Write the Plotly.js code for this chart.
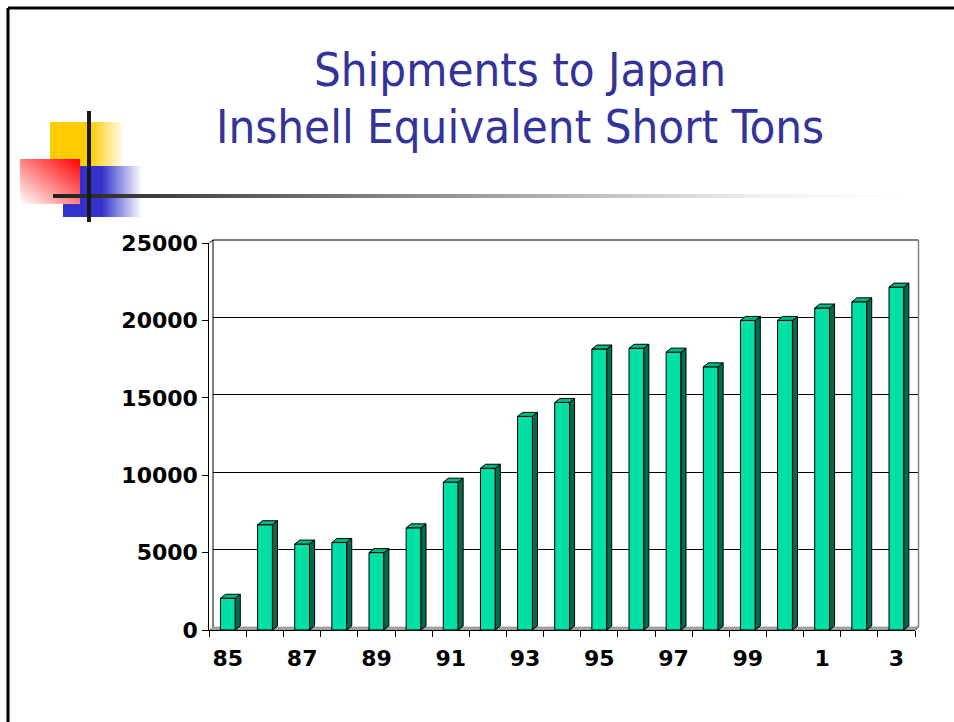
<!DOCTYPE html>
<html>
<head>
<meta charset="utf-8">
<script src="https://cdn.plot.ly/plotly-3.0.1.min.js"></script>
<style>html,body{margin:0;padding:0;background:#fff;}#chart{width:954px;height:722px;}</style>
</head>
<body>
<div id="chart"></div>
<script>
// ---- data ----
const categories = ['85','86','87','88','89','90','91','92','93','94','95','96','97','98','99','0','1','2','3'];
const tons = [2050, 6800, 5550, 5650, 5000, 6600, 9550, 10450, 13800, 14700, 18150, 18200, 17950, 17000, 20000, 20000, 20800, 21200, 22150];
const titleLine1 = 'Shipments to Japan';
const titleLine2 = 'Inshell Equivalent Short Tons';

// ---- helpers (layout geometry) ----
const W = 954, H = 722;
const px = x => x / W;
const py = y => 1 - y / H;

const idx = categories.map((c, i) => i);
const tickIdx = idx.filter(i => i % 2 === 0);
const tickText = tickIdx.map(i => categories[i]);

// 3D look of the columns
const barW = 0.4, depthX = 0.135, depthY = 258;
const sideX = [], sideY = [], topX = [], topY = [];
idx.forEach((i) => {
  const v = tons[i];
  const xl = i - barW / 2, xr = i + barW / 2;
  sideX.push(xr, xr + depthX, xr + depthX, xr, xr, null);
  sideY.push(0, depthY, v + depthY, v, 0, null);
  topX.push(xl, xl + depthX, xr + depthX, xr, xl, null);
  topY.push(v, v + depthY, v + depthY, v, v, null);
});

const tickFont = {family: 'DejaVu Sans, Arial, sans-serif', size: 22, color: '#000', weight: 'bold'};
const titleFont = {family: '"DejaVu Sans Condensed", "DejaVu Sans", sans-serif', size: 47, color: '#333399'};

const traces = [
  {type: 'scatter', x: [], y: [], xaxis: 'x', yaxis: 'y', hoverinfo: 'skip', showlegend: false},
  {type: 'bar', x: idx, y: tons, width: barW, xaxis: 'x2', yaxis: 'y2',
   marker: {color: '#00E0A6', line: {color: '#000', width: 1}}, showlegend: false},
  {type: 'scatter', mode: 'lines', x: sideX, y: sideY, xaxis: 'x2', yaxis: 'y2', fill: 'toself',
   fillcolor: '#006B4E', line: {color: '#000', width: 1}, hoverinfo: 'skip', showlegend: false},
  {type: 'scatter', mode: 'lines', x: topX, y: topY, xaxis: 'x2', yaxis: 'y2', fill: 'toself',
   fillcolor: '#00B883', line: {color: '#000', width: 1}, hoverinfo: 'skip', showlegend: false}
];

// decorative logo (gradient squares + lines), as an SVG image
const ox = 15, oy = 105, dw = 895, dh = 120;
const decoSvg = `<svg xmlns="http://www.w3.org/2000/svg" width="${dw}" height="${dh}" viewBox="0 0 ${dw} ${dh}" preserveAspectRatio="none">
<defs>
<linearGradient id="gy" x1="0" y1="0" x2="1" y2="0"><stop offset="0" stop-color="#FFCC00"/><stop offset="0.53" stop-color="#FFCC00"/><stop offset="1" stop-color="#FFCC00" stop-opacity="0"/></linearGradient>
<linearGradient id="gb" x1="0" y1="0" x2="1" y2="0"><stop offset="0" stop-color="#3333CC"/><stop offset="0.49" stop-color="#3333CC"/><stop offset="1" stop-color="#3333CC" stop-opacity="0"/></linearGradient>
<linearGradient id="gr" x1="1" y1="0" x2="0" y2="1"><stop offset="0" stop-color="#FF0000"/><stop offset="1" stop-color="#FF0000" stop-opacity="0"/></linearGradient>
<linearGradient id="gl" x1="0" y1="0" x2="1" y2="0"><stop offset="0" stop-color="#222222"/><stop offset="0.83" stop-color="#f0f0f0"/><stop offset="1" stop-color="#ffffff"/></linearGradient>
</defs>
<rect x="${50-ox}" y="${122-oy}" width="75" height="45" fill="url(#gy)"/>
<rect x="${63-ox}" y="${166-oy}" width="79" height="51" fill="url(#gb)"/>
<rect x="${20-ox}" y="${159-oy}" width="60" height="45" fill="#fff"/>
<rect x="${20-ox}" y="${159-oy}" width="60" height="45" fill="url(#gr)"/>
<rect x="${53-ox}" y="${194-oy}" width="852" height="4" fill="url(#gl)"/>
<rect x="${87-ox}" y="${111-oy}" width="4" height="111" fill="#1a1a1a"/>
</svg>`;

const layout = {
  width: W, height: H,
  margin: {l: 0, r: 0, t: 0, b: 0},
  paper_bgcolor: '#ffffff',
  plot_bgcolor: 'rgba(0,0,0,0)',
  showlegend: false,
  title: {text: titleLine1, font: titleFont, x: px(520), xanchor: 'center', xref: 'paper',
          y: py(70), yanchor: 'middle', yref: 'paper'},
  annotations: [
    {text: titleLine2, font: titleFont, x: px(520), xanchor: 'center', xref: 'paper',
     y: py(126), yanchor: 'middle', yref: 'paper', showarrow: false}
  ],
  // back wall (gridlines)
  xaxis: {domain: [px(213), px(918)], range: [0, 1], visible: false, fixedrange: true},
  yaxis: {domain: [py(627), py(240)], range: [0, 25000], dtick: 5000, tick0: 0,
          showgrid: true, gridcolor: '#000', gridwidth: 1, showline: false,
          ticks: '', showticklabels: false, zeroline: false, fixedrange: true},
  // front axes with the columns
  xaxis2: {domain: [px(209.3), px(915)], anchor: 'y2', range: [-0.5, 18.5],
           showline: true, linecolor: '#000', linewidth: 1, showgrid: false, zeroline: false,
           tickmode: 'array', tickvals: tickIdx, ticktext: tickText, ticks: '', tickfont: tickFont,
           ticklabelstandoff: 9,
           minor: {ticks: 'outside', ticklen: 6, tickcolor: '#000', tickwidth: 1, tick0: -0.5, dtick: 1, showgrid: false},
           fixedrange: true},
  yaxis2: {domain: [py(630), py(243)], anchor: 'x2', range: [0, 25000], dtick: 5000, tick0: 0,
           tickformat: 'd',
           showline: true, linecolor: '#000', linewidth: 1, showgrid: false, zeroline: false,
           ticks: 'outside', ticklen: 6, tickcolor: '#000', tickwidth: 1, tickfont: tickFont,
           fixedrange: true},
  images: [
    {source: 'data:image/svg+xml;charset=utf-8,' + encodeURIComponent(decoSvg),
     xref: 'paper', yref: 'paper', x: px(ox), y: py(oy), sizex: dw / W, sizey: dh / H,
     xanchor: 'left', yanchor: 'top', sizing: 'stretch', layer: 'above'}
  ],
  shapes: [
    // slide border
    {type: 'line', xref: 'paper', yref: 'paper', x0: px(8), y0: py(8), x1: px(954), y1: py(8), line: {color: '#000', width: 3}},
    {type: 'line', xref: 'paper', yref: 'paper', x0: px(8), y0: py(8), x1: px(8), y1: py(722), line: {color: '#000', width: 3}},
    // floor
    {type: 'path', xref: 'paper', yref: 'paper', layer: 'below',
     path: `M ${px(209.3)},${py(630)} L ${px(213)},${py(627)} L ${px(918.5)},${py(627)} L ${px(915)},${py(630)} Z`,
     fillcolor: '#a6a6a6', line: {color: '#707070', width: 0.5}},
    // back wall edges
    {type: 'path', xref: 'paper', yref: 'paper', layer: 'below',
     path: `M ${px(213)},${py(627)} L ${px(213)},${py(240)} L ${px(918.5)},${py(240)}`,
     line: {color: '#000', width: 1}},
    {type: 'path', xref: 'paper', yref: 'paper', layer: 'below',
     path: `M ${px(209.3)},${py(243)} L ${px(213)},${py(240)}`,
     line: {color: '#000', width: 1}},
    // right wall edge
    {type: 'path', xref: 'paper', yref: 'paper',
     path: `M ${px(918.5)},${py(240)} L ${px(918.5)},${py(627)} L ${px(915)},${py(630)}`,
     line: {color: '#808080', width: 1.5}}
  ]
};

Plotly.newPlot('chart', traces, layout, {displayModeBar: false, staticPlot: true});
</script>
</body>
</html>
